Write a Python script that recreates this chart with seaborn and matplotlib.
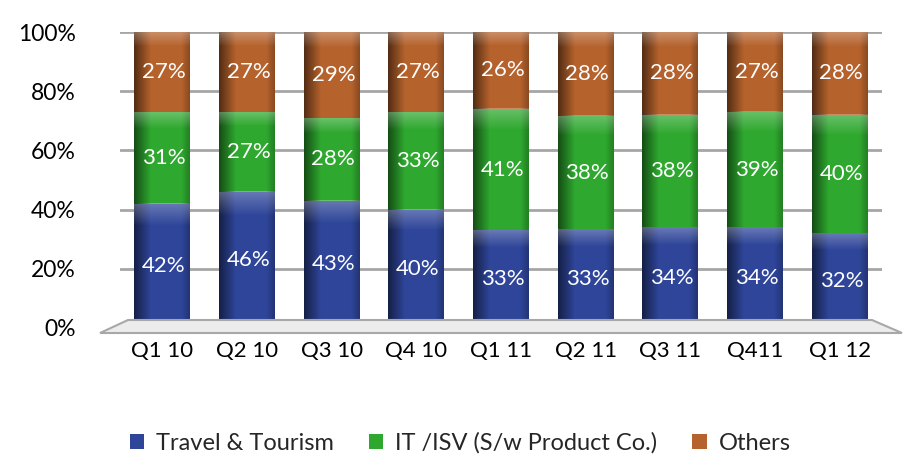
import numpy as np
import pandas as pd
import matplotlib
matplotlib.use("Agg")
import matplotlib.pyplot as plt
import seaborn as sns
from matplotlib.patches import Patch, Polygon

quarters = ["Q1 10", "Q2 10", "Q3 10", "Q4 10", "Q1 11", "Q2 11", "Q3 11", "Q411", "Q1 12"]
travel = [42, 46, 43, 40, 33, 33, 34, 34, 32]
it_isv = [31, 27, 28, 33, 41, 38, 38, 39, 40]
others = [27, 27, 29, 27, 26, 28, 28, 27, 28]
series_names = ["Travel & Tourism", "IT /ISV (S/w Product Co.)", "Others"]
ytick_vals = [0, 20, 40, 60, 80, 100]

colors = ["#2E4599", "#2EA82E", "#B5622C"]

sns.set_theme(style="white")
plt.rcParams["font.family"] = ["Lato", "DejaVu Sans"]

W, H = 905, 469
fig = plt.figure(figsize=(W / 100, H / 100), dpi=100)
ax = fig.add_axes([120 / W, 1 - 328 / H, 762 / W, 296 / H])

# floor (decoration)
floor = Polygon([[100 / W, 1 - 333 / H], [902 / W, 1 - 333 / H],
                 [872 / W, 1 - 320 / H], [128 / W, 1 - 320 / H]],
                closed=True, transform=fig.transFigure, facecolor="#ececec",
                edgecolor="#a8a8a8", lw=1.5, zorder=0)
fig.patches.append(floor)

# 100% stacked: shares of each quarter's total
df = pd.DataFrame({"quarter": quarters,
                   "t": np.array(travel, float),
                   "i": np.array(it_isv, float),
                   "o": np.array(others, float)})
tot = df["t"] + df["i"] + df["o"]
df["c1"] = df["t"] / tot
df["c2"] = (df["t"] + df["i"]) / tot
df["c3"] = (df["t"] + df["i"] + df["o"]) / tot

bw = 0.66
for col, c in zip(["c3", "c2", "c1"], colors[::-1]):
    sns.barplot(data=df, x="quarter", y=col, order=quarters, color=c,
                saturation=1, width=bw, ax=ax, zorder=3, linewidth=0)

# cylinder-like shading overlays
nx = 200
xs = np.linspace(0, 1, nx)
shade = np.clip(0.55 * (1 - xs / 0.3), 0, None) + np.clip(0.25 * (xs - 0.85) / 0.15, 0, None)
shade_img = np.zeros((1, nx, 4))
shade_img[..., 3] = shade
ny = 100
ys = np.linspace(0, 1, ny)[:, None]  # 0 = top
hl = np.clip(0.28 * (1 - ys / 0.18), 0, None)
hl_img = np.ones((ny, 1, 4))
hl_img[..., 3] = hl[:, 0:1]

for idx in range(len(quarters)):
    bounds = [0, df["c1"][idx], df["c2"][idx], df["c3"][idx]]
    for k in range(3):
        y0, y1 = bounds[k], bounds[k + 1]
        ext = (idx - bw / 2, idx + bw / 2, y0, y1)
        ax.imshow(shade_img, extent=ext, aspect="auto", zorder=4, interpolation="bilinear")
        ax.imshow(hl_img, extent=ext, aspect="auto", zorder=4, interpolation="bilinear")
    vals = [travel[idx], it_isv[idx], others[idx]]
    for k in range(3):
        ax.text(idx + 0.02, (bounds[k] + bounds[k + 1]) / 2, f"{vals[k]}%",
                ha="center", va="center", color="white", fontsize=16, zorder=6)

ax.set_xlim(-0.5, len(quarters) - 0.5)
ax.set_ylim(0, 1)
ax.set_yticks([v / 100 for v in ytick_vals])
ax.set_yticklabels([f"{v}%" for v in ytick_vals])
ax.set_xlabel("")
ax.set_ylabel("")
ax.yaxis.grid(True, color="#a6a6a6", lw=2)
ax.set_axisbelow(True)
for s in ax.spines.values():
    s.set_visible(False)
ax.tick_params(axis="y", length=0, pad=32, labelsize=16.5, colors="black")
ax.tick_params(axis="x", length=0, pad=9, labelsize=16, colors="black")
ax.set_facecolor("none")

handles = [Patch(facecolor=c, edgecolor="none") for c in colors]
fig.legend(handles, series_names, loc="center", bbox_to_anchor=(460 / W, 1 - 443 / H),
           ncol=3, frameon=False, fontsize=17, handlelength=0.6, handleheight=0.6,
           handletextpad=0.5, columnspacing=1.5)

fig.savefig("out.png", dpi=100, facecolor="white")
